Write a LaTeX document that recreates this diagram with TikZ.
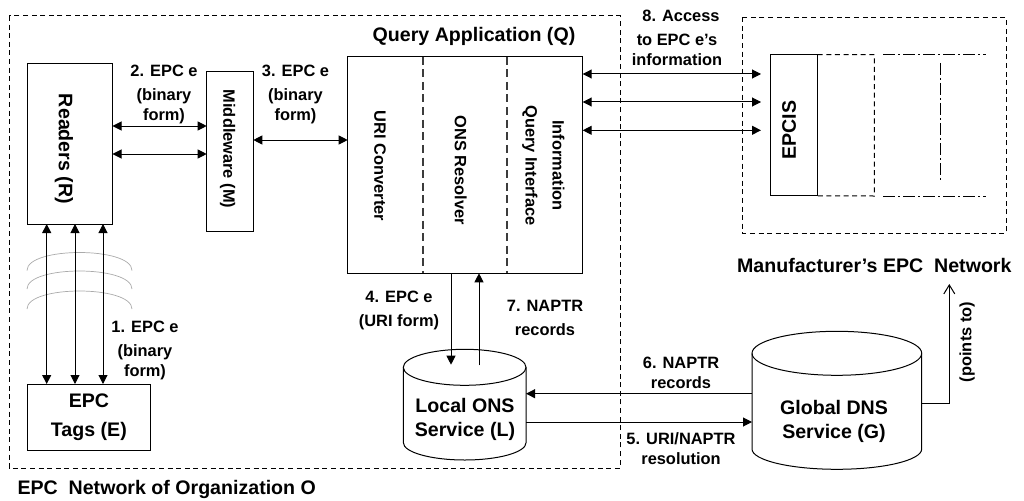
\documentclass[tikz,border=0pt]{standalone}
\usepackage{fontspec}
\setmainfont{Liberation Sans}
\usetikzlibrary{positioning,arrows.meta}
\definecolor{colorarc}{RGB}{170,170,170}
\definecolor{colordiv}{RGB}{60,60,60}

\begin{document}
\begin{tikzpicture}[
    x=1pt, y=-1pt, line width=1pt,
    >={Triangle[length=9pt,width=9pt]},
    block/.style={draw,inner sep=0pt,outer sep=0pt},
    slot/.style={inner sep=0pt,outer sep=0pt},
    title/.style={font=\fontsize{19.6}{24}\bfseries,align=center,inner sep=0pt},
    note/.style={font=\fontsize{16.4}{20}\bfseries,align=center,inner sep=0pt},
    frame/.style={dash pattern=on 5pt off 3.6pt},
    part/.style={dash pattern=on 8pt off 4.6pt,colordiv,line width=1.7pt},
    extent/.style={dash pattern=on 12pt off 3pt on 2pt off 3pt}
]
    \useasboundingbox (0,0) rectangle (1024,500);

    % Organization
    \draw[frame] (9,16) rectangle (620,468);
    \node[title,anchor=west] (orgname) at (17,489) {EPC\ \ Network of Organization O};

    % Manufacturer
    \draw[frame] (742.3,17.3) rectangle (1006,233.3);
    \node[title] (manname) at (874.3,265) {Manufacturer’s EPC\ \ Network};

    % Tags and readers
    \node[block,minimum width=85pt,minimum height=160pt] (readers) at (70,144) {};
    \node[title,rotate=-90] (readersname) at (64,149) {Readers (R)};
    \node[block,minimum width=122.8pt,minimum height=66pt,title,font=\fontsize{19.6}{29}\bfseries,draw] (tags) at (88.9,417) {EPC\\Tags (E)};

    % Radio waves
    \foreach \y in {270.5,289,309}
        \draw[colorarc,line width=.7pt] (27,\y) .. controls (27,\y-24) and (132,\y-24) .. (132,\y);

    % Arrows tags to readers
    \foreach \x in {46.7,75,103}
        \draw[<->] (readers.south -| \x,0) -- (tags.north -| \x,0);
    \node[note] (step1) at (145,350) {1. EPC e\\[4pt](binary\\form)};

    % Middleware
    \node[block,minimum width=46.6pt,minimum height=160pt] (middleware) at (230,151.7) {};
    \node[note,rotate=-90] (middlewarename) at (227.7,149) {Middleware (M)};
    \draw[<->] (readers.east |- 0,126) -- (middleware.west |- 0,126);
    \draw[<->] (readers.east |- 0,154) -- (middleware.west |- 0,154);
    \node[note] (step2) at (164,94) {2. EPC e\\[4pt](binary\\form)};

    % Query application
    \node[block,minimum width=235pt,minimum height=216.6pt] (query) at (465.2,165) {};
    \node[title] (queryname) at (474,36.7) {Query Application (Q)};
    \draw[part] (query.north -| 423,0) -- (query.south -| 423,0);
    \draw[part] (query.north -| 507.3,0) -- (query.south -| 507.3,0);
    \node[note,rotate=-90] (uriname) at (380,166) {URI Converter};
    \node[note,rotate=-90] (onsname) at (460.7,170.5) {ONS Resolver};
    \node[note,rotate=-90] (infoname) at (543.3,165.5) {Information\\[7pt]Query Interface};
    \draw[<->] (middleware.east |- 0,140) -- (query.west |- 0,140);
    \node[note] (step3) at (295.5,94) {3. EPC e\\[4pt](binary\\form)};

    % EPCIS
    \node[block,minimum width=47pt,minimum height=141.3pt] (epcis) at (794.2,125.3) {};
    \node[title,rotate=90] (epcisname) at (789,130) {EPCIS};
    \draw[frame] (epcis.north east) -- (874.3,54.7) -- (874.3,196) -- (epcis.south east);
    \draw[extent] (883,54.7) -- (986,54.7);
    \draw[extent] (883,196) -- (986,196);
    \draw[extent] (940,63) -- (940,182.7);

    % Arrows to EPCIS
    \coordinate (epcisin) at (761,0);
    \foreach \y in {74,102,130.3}
        \draw[<->] (query.east |- 0,\y) -- (epcisin |- 0,\y);
    \node[note] (step8) at (677,38) {\hspace*{8pt}8. Access\\[4pt]to EPC e’s\\information};

    % Local name service
    \node[slot,minimum width=122.7pt,minimum height=110.7pt] (local) at (464.7,404.6) {};
    \draw (464.65,367.3) ellipse [x radius=61.35pt,y radius=18pt];
    \draw (local.west |- 0,367.3) -- (local.west |- 0,442.7) arc[start angle=180,end angle=360,x radius=61.35pt,y radius=17.3pt] -- (local.east |- 0,367.3);
    \node[title] (localname) at (465,419.7) {Local ONS\\Service (L)};

    % Global name service
    \node[slot,minimum width=169.7pt,minimum height=138pt] (global) at (836.85,400.3) {};
    \draw (836.85,353.3) ellipse [x radius=84.85pt,y radius=22pt];
    \draw (global.west |- 0,353.3) -- (global.west |- 0,449) arc[start angle=180,end angle=360,x radius=84.85pt,y radius=20.3pt] -- (global.east |- 0,353.3);
    \node[title] (globalname) at (834,421) {Global DNS\\Service (G)};

    % Query to local
    \coordinate (localin) at (451,364.7);
    \coordinate (localout) at (479,365.3);
    \draw[->] (query.south -| localin) -- (localin);
    \draw[->] (localout) -- (query.south -| localout);
    \node[note] (step4) at (399,310) {4. EPC e\\[4pt](URI form)};
    \node[note] (step7) at (545,318) {7. NAPTR\\[4pt]records};

    % Local to global
    \draw[->] (global.west |- 0,393.7) -- (local.east |- 0,393.7);
    \draw[->] (local.east |- 0,422) -- (global.west |- 0,422);
    \node[note] (step6) at (681,373) {6. NAPTR\\records};
    \node[note] (step5) at (681,449) {5. URI/NAPTR\\resolution};

    % Global to manufacturer
    \coordinate (mantarget) at (949.3,284);
    \draw[-{Straight Barb[length=9pt,width=11pt]}] (global.east |- 0,403) -| (mantarget);
    \node[note,rotate=90] (pointsname) at (967,342) {(points to)};
\end{tikzpicture}
\end{document}
